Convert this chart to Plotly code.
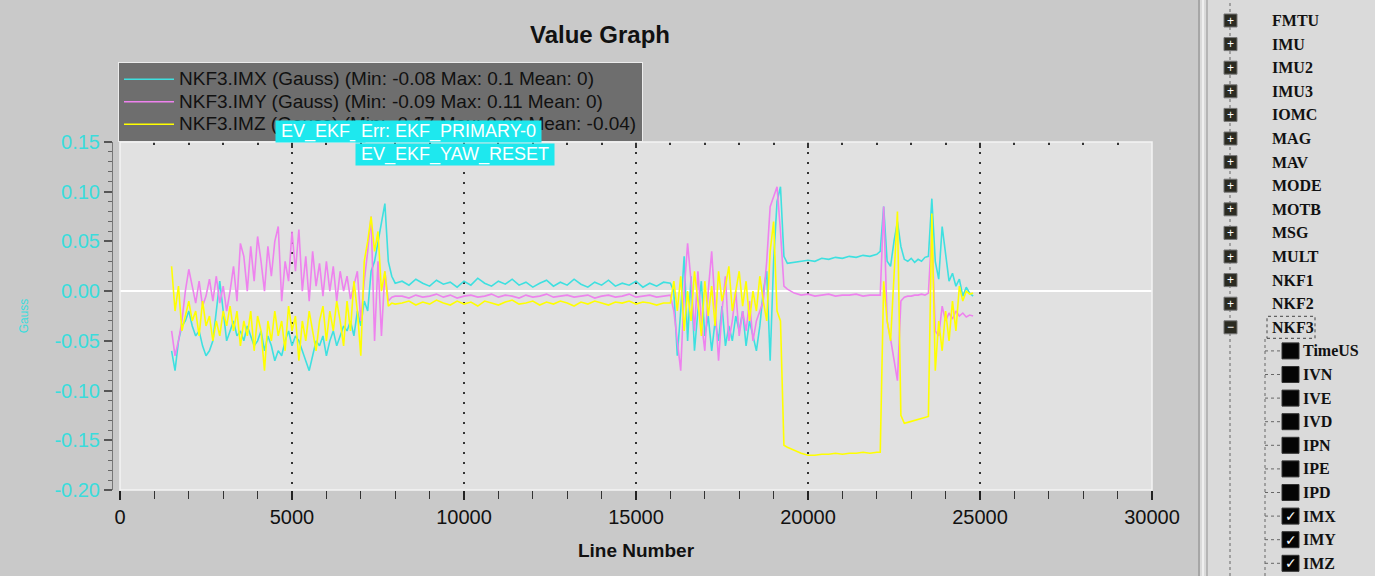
import plotly.graph_objects as go

# ---------------- data ----------------
LINE_NO = [
    # noisy start 1500..8000 step 100
    1500, 1600, 1700, 1800, 1900, 2000, 2100, 2200, 2300, 2400,
    2500, 2600, 2700, 2800, 2900, 3000, 3100, 3200, 3300, 3400,
    3500, 3600, 3700, 3800, 3900, 4000, 4100, 4200, 4300, 4400,
    4500, 4600, 4700, 4800, 4900, 5000, 5100, 5200, 5300, 5400,
    5500, 5600, 5700, 5800, 5900, 6000, 6100, 6200, 6300, 6400,
    6500, 6600, 6700, 6800, 6900, 7000, 7100, 7200, 7300, 7400,
    7500, 7600, 7700, 7800, 7900, 8000,
    # quiet 8200..15800 step 200
    8200, 8400, 8600, 8800, 9000, 9200, 9400, 9600, 9800, 10000,
    10200, 10400, 10600, 10800, 11000, 11200, 11400, 11600, 11800, 12000,
    12200, 12400, 12600, 12800, 13000, 13200, 13400, 13600, 13800, 14000,
    14200, 14400, 14600, 14800, 15000, 15200, 15400, 15600, 15800,
    # noisy 16000..19400 step 100
    16000, 16100, 16200, 16300, 16400, 16500, 16600, 16700, 16800, 16900,
    17000, 17100, 17200, 17300, 17400, 17500, 17600, 17700, 17800, 17900,
    18000, 18100, 18200, 18300, 18400, 18500, 18600, 18700, 18800, 18900,
    19000, 19100, 19200, 19300, 19400,
    # plateau 19600..22000 step 200
    19600, 19800, 20000, 20200, 20400, 20600, 20800, 21000, 21200, 21400,
    21600, 21800, 22000,
    # end 22100..24800 step 100
    22100, 22200, 22300, 22400, 22500, 22600, 22700, 22800, 22900, 23000,
    23100, 23200, 23300, 23400, 23500, 23600, 23700, 23800, 23900, 24000,
    24100, 24200, 24300, 24400, 24500, 24600, 24700, 24800,
]

IMX = [
    -0.060, -0.080, -0.050, -0.035, -0.030, -0.020, -0.035, -0.045, -0.040, -0.055,
    -0.065, -0.060, -0.050, -0.020, 0.010, -0.020, -0.050, -0.040, -0.030, -0.045,
    -0.040, -0.050, -0.035, -0.045, -0.055, -0.050, -0.040, -0.060, -0.045, -0.055,
    -0.070, -0.060, -0.065, -0.050, -0.040, -0.055, -0.045, -0.050, -0.060, -0.070,
    -0.080, -0.065, -0.050, -0.055, -0.045, -0.065, -0.050, -0.040, -0.055, -0.045,
    -0.035, -0.040, -0.030, -0.045, -0.020, -0.035, -0.010, -0.020, 0.020, 0.030,
    0.050, 0.070, 0.088, 0.030, 0.015, 0.008,
    0.010, 0.006, 0.012, 0.008, 0.005, 0.011, 0.007, 0.009, 0.004, 0.010,
    0.006, 0.013, 0.008, 0.005, 0.010, 0.007, 0.012, 0.006, 0.009, 0.004,
    0.008, 0.011, 0.005, 0.009, 0.006, 0.012, 0.007, 0.004, 0.009, 0.006,
    0.011, 0.005, 0.008, 0.006, 0.010, 0.004, 0.008, 0.005, 0.009,
    0.008, 0.000, -0.065, -0.020, 0.035, -0.050, 0.015, -0.060, -0.020, 0.010,
    -0.045, -0.025, -0.060, -0.030, -0.050, -0.015, -0.055, -0.035, -0.050, -0.025,
    -0.040, -0.020, -0.055, -0.030, -0.045, -0.060, -0.035, 0.000, 0.020, -0.070,
    0.030, 0.090, 0.105, 0.035, 0.028,
    0.029, 0.030, 0.031, 0.030, 0.033, 0.032, 0.034, 0.033, 0.035, 0.034,
    0.036, 0.035, 0.037,
    0.040, 0.085, 0.030, 0.025, 0.050, 0.070, 0.045, 0.032, 0.030, 0.033,
    0.029, 0.032, 0.030, 0.034, 0.035, 0.093, 0.030, 0.012, 0.065, 0.040,
    0.010, 0.018, 0.005, 0.012, -0.005, 0.004, -0.002, -0.005,
]

IMY = [
    -0.040, -0.065, -0.050, -0.030, 0.000, 0.022, 0.005, -0.012, 0.010, -0.015,
    -0.005, 0.012, -0.010, 0.015, -0.012, 0.005, -0.020, 0.000, 0.025, -0.010,
    0.048, 0.035, 0.000, 0.045, 0.010, 0.055, 0.030, 0.000, 0.045, 0.015,
    0.050, 0.065, -0.010, 0.030, 0.010, 0.060, 0.020, 0.062, 0.000, 0.035,
    -0.010, 0.040, 0.005, 0.028, -0.005, 0.030, 0.000, 0.025, -0.010, 0.020,
    0.000, 0.015, -0.008, 0.005, 0.020, -0.030, 0.010, 0.040, 0.075, -0.050,
    0.030, -0.045, 0.020, -0.010, -0.006, -0.005,
    -0.005, -0.007, -0.004, -0.006, -0.005, -0.003, -0.006, -0.004, -0.007, -0.005,
    -0.004, -0.006, -0.005, -0.003, -0.006, -0.004, -0.005, -0.007, -0.004, -0.006,
    -0.005, -0.003, -0.006, -0.005, -0.004, -0.006, -0.005, -0.004, -0.007, -0.005,
    -0.004, -0.006, -0.005, -0.003, -0.006, -0.005, -0.004, -0.006, -0.005,
    -0.004, -0.020, -0.050, -0.080, 0.000, 0.048, 0.010, -0.040, 0.020, -0.030,
    -0.060, 0.000, 0.040, -0.010, -0.070, -0.020, 0.015, -0.050, -0.030, 0.000,
    -0.045, -0.020, -0.040, -0.010, -0.050, -0.030, -0.020, -0.010, 0.030, 0.085,
    0.095, 0.105, 0.060, 0.005, 0.002,
    -0.002, -0.004, -0.003, -0.005, -0.004, -0.003, -0.005, -0.004, -0.004, -0.003,
    -0.005, -0.004, -0.004,
    -0.004, 0.085, -0.030, -0.048, -0.070, -0.090, -0.010, -0.006, -0.005, -0.005,
    -0.004, -0.004, -0.003, -0.004, -0.002, 0.060, -0.040, -0.045, -0.015, -0.030,
    -0.022, -0.028, -0.020, -0.025, -0.022, -0.026, -0.024, -0.025,
]

IMZ = [
    0.025, -0.020, 0.005, -0.040, -0.025, -0.010, -0.030, -0.020, -0.045, -0.010,
    -0.035, -0.025, -0.050, -0.030, -0.045, -0.020, -0.035, -0.015, -0.040, -0.020,
    -0.055, -0.030, -0.045, -0.020, -0.060, -0.025, -0.040, -0.080, -0.030, -0.050,
    -0.020, -0.045, -0.030, -0.060, -0.015, -0.040, -0.025, -0.070, -0.030, -0.050,
    -0.020, -0.040, -0.060, -0.030, -0.015, -0.050, -0.020, -0.040, -0.010, -0.030,
    -0.055, -0.010, -0.040, 0.010, -0.020, -0.065, 0.030, 0.050, 0.075, 0.040,
    0.060, 0.000, 0.020, -0.015, -0.012, -0.013,
    -0.012, -0.010, -0.014, -0.011, -0.013, -0.009, -0.012, -0.014, -0.010, -0.013,
    -0.011, -0.015, -0.010, -0.012, -0.014, -0.011, -0.009, -0.013, -0.012, -0.010,
    -0.014, -0.011, -0.013, -0.010, -0.012, -0.015, -0.011, -0.013, -0.010, -0.012,
    -0.014, -0.011, -0.012, -0.010, -0.013, -0.011, -0.012, -0.014, -0.012,
    -0.012, 0.010, -0.020, 0.015, -0.040, 0.000, -0.030, 0.020, -0.010, -0.045,
    0.010, -0.025, 0.005, -0.035, 0.020, -0.010, 0.005, 0.025, -0.020, 0.000,
    0.020, -0.015, 0.010, -0.030, 0.000, -0.020, 0.015, -0.010, -0.030, 0.040,
    0.070, -0.020, -0.030, -0.155, -0.157,
    -0.160, -0.163, -0.165, -0.165, -0.164, -0.164, -0.163, -0.164, -0.163, -0.163,
    -0.162, -0.163, -0.162,
    -0.162, 0.010, -0.030, -0.050, 0.020, 0.080, -0.125, -0.133, -0.132, -0.131,
    -0.130, -0.129, -0.128, -0.127, -0.126, 0.078, -0.080, -0.030, -0.060, -0.020,
    -0.050, -0.010, -0.040, 0.005, -0.010, 0.000, -0.003, -0.002,
]

assert len(LINE_NO) == len(IMX) == len(IMY) == len(IMZ), (len(LINE_NO), len(IMX), len(IMY), len(IMZ))

SERIES = [IMX, IMY, IMZ]
SERIES_NAMES = [
    "NKF3.IMX (Gauss) (Min: -0.08 Max: 0.1 Mean: 0)",
    "NKF3.IMY (Gauss) (Min: -0.09 Max: 0.11 Mean: 0)",
    "NKF3.IMZ (Gauss) (Min: -0.17 Max: 0.08 Mean: -0.04)",
]
SERIES_COLORS = ["#3ee0e0", "#ee82ee", "#ffff00"]

X_TICKS = [0, 5000, 10000, 15000, 20000, 25000, 30000]
X_TICK_LABELS = ["0", "5000", "10000", "15000", "20000", "25000", "30000"]
Y_TICKS = [-0.20, -0.15, -0.10, -0.05, 0.00, 0.05, 0.10, 0.15]
Y_TICK_LABELS = ["-0.20", "-0.15", "-0.10", "-0.05", "0.00", "0.05", "0.10", "0.15"]

EVENT_X = [4500, 6830, 6830]
EVENT_TEXT = ["EV_EKF_", "Err: EKF_PRIMARY-0", "EV_EKF_YAW_RESET"]
EVENT_ROW = [0, 0, 1]

TREE_GROUPS = ["FMTU", "IMU", "IMU2", "IMU3", "IOMC", "MAG", "MAV", "MODE",
               "MOTB", "MSG", "MULT", "NKF1", "NKF2", "NKF3"]
TREE_FIELDS = ["TimeUS", "IVN", "IVE", "IVD", "IPN", "IPE", "IPD", "IMX", "IMY", "IMZ"]
FIELD_CHECKED = [False, False, False, False, False, False, False, True, True, True]

# ---------------- layout helpers (pixel -> paper) ----------------
ML, MR, MT, MB = 112, 223, 142, 86
PW = 1375 - ML - MR
PH = 576 - MT - MB


def PX(x):
    return (x - ML) / PW


def PY(y):
    return (576 - MB - y) / PH


NARROW = "Liberation Sans Narrow, Arial Narrow, Liberation Sans, Arial"
SANS = "Liberation Sans, Arial"
SERIF = "Liberation Serif, Times New Roman, serif"

fig = go.Figure()
for vals, name, col in zip(SERIES, SERIES_NAMES, SERIES_COLORS):
    fig.add_trace(go.Scatter(
        x=LINE_NO, y=vals, mode="lines",
        name='<span style="font-size:19px">' + name + '</span>',
        line=dict(color=col, width=1.6),
    ))
# empty helper trace so that the top (inside-tick) axis gets its subplot
fig.add_trace(go.Scatter(x=[], y=[], xaxis="x2", yaxis="y", showlegend=False, hoverinfo="skip"))

shapes = []
annotations = []

# white border of the plot area
shapes.append(dict(type="rect", xref="paper", yref="paper",
                   x0=PX(120), x1=1, y0=0, y1=1,
                   line=dict(color="#f4f4f4", width=1.5), layer="above"))

# event labels
for ex, et, er in zip(EVENT_X, EVENT_TEXT, EVENT_ROW):
    annotations.append(dict(
        x=ex, xref="x", y=PY(131 + 23 * er), yref="paper",
        xanchor="left", yanchor="middle", showarrow=False,
        text=" " + et + " ", bgcolor="#1ee8ee", borderpad=0,
        font=dict(family=SANS, size=18, color="white"),
    ))

# right-hand tree panel
shapes.append(dict(type="rect", xref="paper", yref="paper",
                   x0=PX(1200), x1=PX(1375), y0=PY(576), y1=PY(0),
                   fillcolor="#dadada", line=dict(width=0), layer="below"))
for xx, cc in [(1199, "#9a9a9a"), (1203, "#f6f6f6"), (1207, "#a8a8a8")]:
    shapes.append(dict(type="line", xref="paper", yref="paper",
                       x0=PX(xx), x1=PX(xx), y0=PY(576), y1=PY(0),
                       line=dict(color=cc, width=1.5)))

ROW0, ROWSTEP = 20.5, 23.6
shapes.append(dict(type="line", xref="paper", yref="paper",
                   x0=PX(1230), x1=PX(1230), y0=PY(576), y1=PY(0),
                   line=dict(color="#666", width=1, dash="dot")))
for i, g in enumerate(TREE_GROUPS):
    ry = ROW0 + i * ROWSTEP
    shapes.append(dict(type="rect", xref="paper", yref="paper",
                       x0=PX(1224), x1=PX(1237), y0=PY(ry + 6.5), y1=PY(ry - 6.5),
                       fillcolor="#2b2b22", line=dict(color="#777", width=1)))
    annotations.append(dict(x=PX(1230.5), y=PY(ry), xref="paper", yref="paper",
                            text="−" if g == "NKF3" else "+", showarrow=False,
                            xanchor="center", yanchor="middle",
                            font=dict(family=SANS, size=12, color="white")))
    annotations.append(dict(x=PX(1270), y=PY(ry), xref="paper", yref="paper",
                            text=g, showarrow=False, xanchor="left", yanchor="middle",
                            font=dict(family=SERIF, size=16, color="#111", weight="bold")))

nk = ROW0 + (len(TREE_GROUPS) - 1) * ROWSTEP
shapes.append(dict(type="rect", xref="paper", yref="paper",
                   x0=PX(1267), x1=PX(1315), y0=PY(nk + 11), y1=PY(nk - 11),
                   line=dict(color="#444", width=1, dash="dot")))
shapes.append(dict(type="line", xref="paper", yref="paper",
                   x0=PX(1265), x1=PX(1265), y0=PY(576), y1=PY(nk + 11),
                   line=dict(color="#666", width=1, dash="dot")))
for j, (f, chk) in enumerate(zip(TREE_FIELDS, FIELD_CHECKED)):
    ry = ROW0 + (len(TREE_GROUPS) + j) * ROWSTEP
    shapes.append(dict(type="line", xref="paper", yref="paper",
                       x0=PX(1265), x1=PX(1282), y0=PY(ry), y1=PY(ry),
                       line=dict(color="#666", width=1, dash="dot")))
    shapes.append(dict(type="rect", xref="paper", yref="paper",
                       x0=PX(1282), x1=PX(1299), y0=PY(ry + 8), y1=PY(ry - 8),
                       fillcolor="#050505", line=dict(color="#333", width=1)))
    if chk:
        annotations.append(dict(x=PX(1290.5), y=PY(ry), xref="paper", yref="paper",
                                text="✓", showarrow=False, xanchor="center", yanchor="middle",
                                font=dict(family="DejaVu Sans", size=14, color="white")))
    annotations.append(dict(x=PX(1301), y=PY(ry), xref="paper", yref="paper",
                            text=f, showarrow=False, xanchor="left", yanchor="middle",
                            font=dict(family=SERIF, size=16, color="#111", weight="bold")))

fig.update_layout(
    width=1375, height=576, autosize=False,
    margin=dict(l=ML, r=MR, t=MT, b=MB, pad=0),
    paper_bgcolor="#c9c9c9", plot_bgcolor="#e1e1e1",
    title=dict(text="<b>Value Graph</b>", x=600 / 1375, xref="container", xanchor="center",
               y=1 - 35 / 576, yref="container", yanchor="middle",
               font=dict(family=SANS, size=24, color="#111")),
    showlegend=True,
    legend=dict(x=PX(118), y=PY(62), xanchor="left", yanchor="top",
                bgcolor="#6e6e6e", bordercolor="#ececec", borderwidth=1,
                font=dict(family=SANS, size=15, color="#111"),
                itemwidth=50, tracegroupgap=0),
    xaxis=dict(domain=[PX(120), 1], range=[0, 30000], anchor="y",
               tickvals=X_TICKS, ticktext=X_TICK_LABELS,
               ticks="outside", ticklen=9, tickwidth=1.5, tickcolor="#222",
               minor=dict(dtick=1000, tick0=0, ticks="outside", ticklen=8, tickcolor="#333", tickwidth=1, showgrid=False),
               showgrid=True, gridcolor="#333", gridwidth=2, griddash="2px,8px",
               zeroline=False, showline=False,
               tickfont=dict(family=NARROW, size=20, color="#111"),
               title=dict(text="<b>Line Number</b>", standoff=16,
                          font=dict(family=NARROW, size=19, color="#111"))),
    xaxis2=dict(overlaying="x", side="top", anchor="y", range=[0, 30000],
                tickvals=X_TICKS, ticks="inside", ticklen=6, tickcolor="#333", tickwidth=1.5,
                minor=dict(dtick=1000, tick0=0, ticks="inside", ticklen=3, tickcolor="#333", tickwidth=1.5),
                showticklabels=False, showgrid=False, zeroline=False, showline=False),
    yaxis=dict(domain=[0, 1], range=[-0.2, 0.15], anchor="free", position=0,
               tickvals=Y_TICKS, ticktext=Y_TICK_LABELS,
               ticks="outside", ticklen=8, tickwidth=1.5, tickcolor="#555",
               minor=dict(dtick=0.01, tick0=0, ticks="outside", ticklen=4, tickcolor="#666", tickwidth=1),
               showgrid=False, zeroline=True, zerolinecolor="white", zerolinewidth=2,
               showline=True, linecolor="#777", linewidth=1,
               tickfont=dict(family=NARROW, size=20, color="#3adcdc"),
               title=dict(text="Gauss", standoff=22,
                          font=dict(family=SANS, size=12, color="#3adcdc"))),
    shapes=shapes,
    annotations=annotations,
)

fig.write_html("out.html", config={"displayModeBar": False},
               post_script="document.body.style.margin='0';document.body.style.overflow='hidden';")
